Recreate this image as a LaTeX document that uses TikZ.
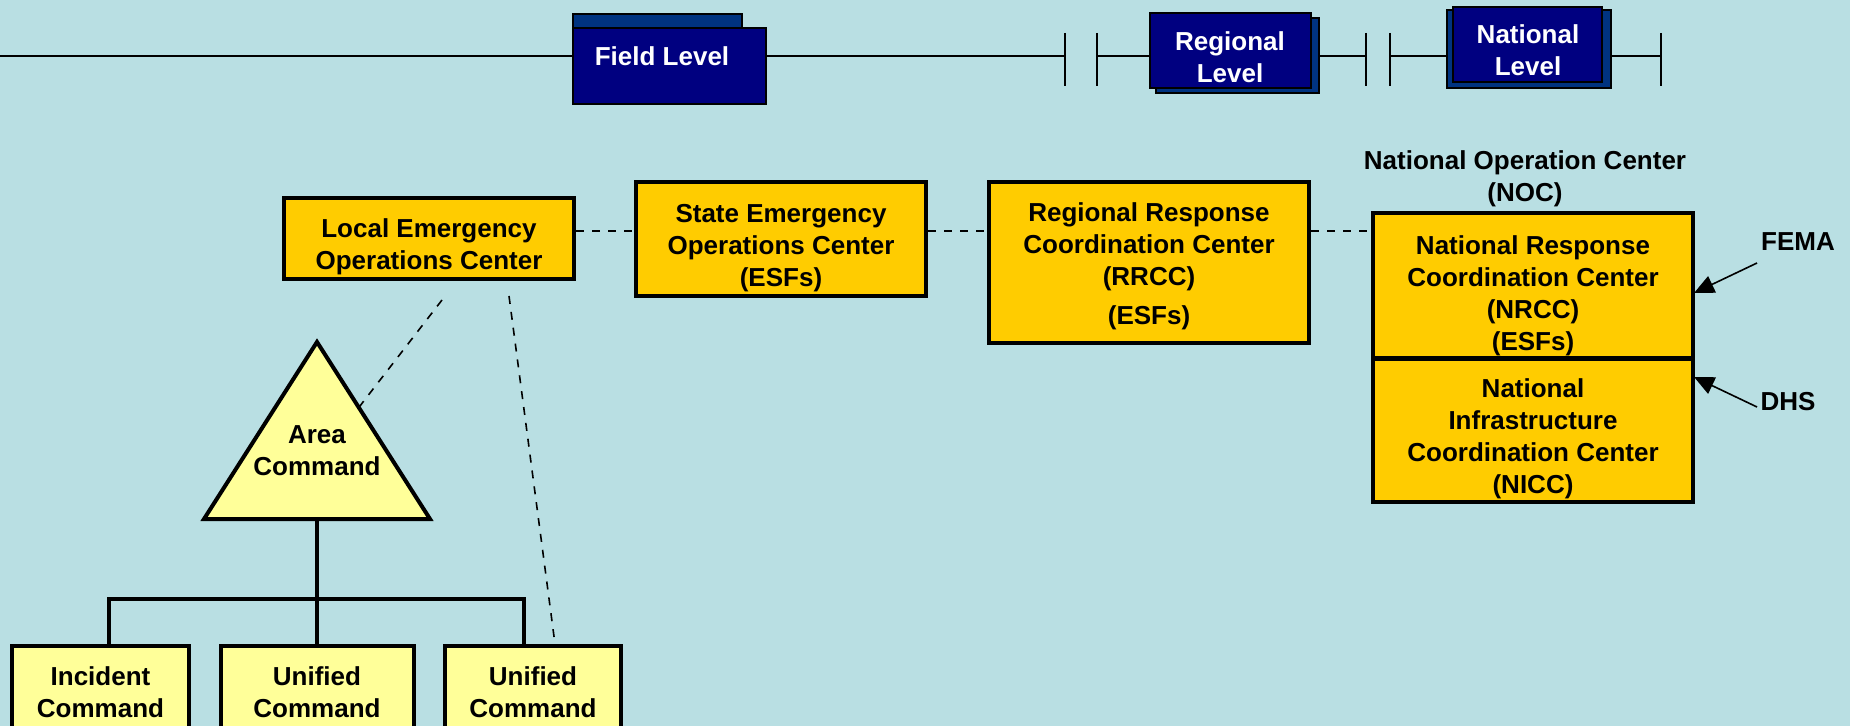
\documentclass[tikz,border=0pt]{standalone}
\usepackage{fontspec}
\setmainfont{Liberation Sans}
\usetikzlibrary{arrows.meta,calc}
\definecolor{bgblue}{RGB}{185,223,227}
\definecolor{eocorange}{RGB}{255,204,0}
\definecolor{cmdyellow}{RGB}{255,255,153}
\definecolor{levelnavy}{RGB}{0,0,128}
\definecolor{levelshade}{RGB}{0,51,128}
\newcommand{\padtop}[1]{\rule{0pt}{#1}}
\begin{document}
\begin{tikzpicture}[x=0.5pt,y=-0.5pt,
  every node/.style={font=\fontsize{13}{16}\selectfont\bfseries, align=center},
  eoc/.style={draw=black, line width=2pt, fill=eocorange, inner sep=0pt},
  cmdbox/.style={draw=black, line width=2pt, fill=cmdyellow, inner sep=0pt, minimum height=46pt},
  levelbox/.style={draw=black, line width=0.6pt, fill=levelnavy},
  levelback/.style={draw=black, line width=0.6pt, fill=levelshade},
  levellabel/.style={text=white},
  bar/.style={line width=1pt},
  link/.style={line width=0.8pt, dash pattern=on 4pt off 4pt},
  tree/.style={line width=2pt},
  arr/.style={line width=0.8pt, -{Triangle[length=10pt,width=9pt]}}
]
\useasboundingbox (0,0) rectangle (1850,726);
\clip (0,0) rectangle (1850,726);
\fill[bgblue] (0,0) rectangle (1850,726);

% levels bar
\draw[bar] (0,56) -- (1065,56);
\draw[bar] (1097,56) -- (1366,56);
\draw[bar] (1390,56) -- (1661,56);
\foreach \x in {1065,1097,1366,1390,1661}{
\draw[bar] (\x,33) -- (\x,86);
}
\draw[levelback] (573,14) rectangle (742,30);
\draw[levelbox] (573,28) rectangle (766,104);
\draw[levelback] (1156,18) rectangle (1319,93);
\draw[levelbox] (1150,13) rectangle (1311,88);
\draw[levelback] (1447,10) rectangle (1611,88);
\draw[levelbox] (1453,7) rectangle (1602,82);
\node[levellabel] (field) at (662,56) {Field Level};
\node[levellabel] (regional) at (1230,57) {Regional\\Level};
\node[levellabel] (national) at (1528,50) {National\\Level};

% operations centers
\node[eoc, minimum width=145pt, minimum height=40.5pt] (local) at (429,238.5) {\padtop{18pt}Local Emergency\\Operations Center};
\node[eoc, minimum width=145pt, minimum height=57pt] (state) at (781,239) {\padtop{18.5pt}State Emergency\\Operations Center\\(ESFs)};
\node[eoc, minimum width=160pt, minimum height=80.5pt] (rrcc) at (1149,262.5) {\padtop{13pt}Regional Response\\Coordination Center\\(RRCC)\\[3.5pt](ESFs)};
\node[eoc, minimum width=160pt, minimum height=72.5pt] (nrcc) at (1533,286) {\padtop{19.5pt}National Response\\Coordination Center\\(NRCC)\\(ESFs)};
\node[eoc, minimum width=160pt, minimum height=71.5pt] (nicc) at (1533,430.5) {\padtop{18pt}National\\Infrastructure\\Coordination Center\\(NICC)};
\node (noc) at (1525,179) {National Operation Center\\(NOC)};
\node (fema) at (1798,242) {FEMA};
\node (dhs) at (1788,402) {DHS};

\coordinate (dashrow) at (0,231);
\draw[link] (local.east |- dashrow) -- (state.west |- dashrow);
\draw[link] (state.east |- dashrow) -- (rrcc.west |- dashrow);
\draw[link] (rrcc.east |- dashrow) -- (nrcc.west |- dashrow);

\coordinate (femaTail) at (1757,263);
\coordinate (femaTip) at (1694,293);
\coordinate (dhsTail) at (1757,407);
\coordinate (dhsTip) at (1694,377);
\draw[arr] (femaTail) -- (femaTip);
\draw[arr] (dhsTail) -- (dhsTip);

% area command
\coordinate (areaTop) at (317,342);
\coordinate (areaLeft) at (204,519);
\coordinate (areaRight) at (430,519);
\coordinate (areaBase) at (317,519);
\coordinate (bus) at (317,599);
\draw[tree, fill=cmdyellow] (areaTop) -- (areaRight) -- (areaLeft) -- cycle;
\node (area) at (317,451) {Area\\Command};

\node[cmdbox, minimum width=88.5pt] (ic) at (100.5,692) {Incident\\Command};
\node[cmdbox, minimum width=96.5pt] (ucA) at (317,692) {Unified\\Command};
\node[cmdbox, minimum width=88pt] (ucB) at (533,692) {Unified\\Command};

\draw[tree] (areaBase) -- (bus);
\draw[tree] ($(ic.north)+(8.5,0)$) |- (bus) -| ($(ucB.north)+(-9,0)$);
\draw[tree] (bus) -- (ucA.north);

\draw[link] ($(local.south)+(13,19)$) -- ($(areaTop)!0.37!(areaRight)$);
\draw[link] ($(local.south)+(80,15)$) -- ($(ucB.north)+(22,0)$);
\end{tikzpicture}
\end{document}
